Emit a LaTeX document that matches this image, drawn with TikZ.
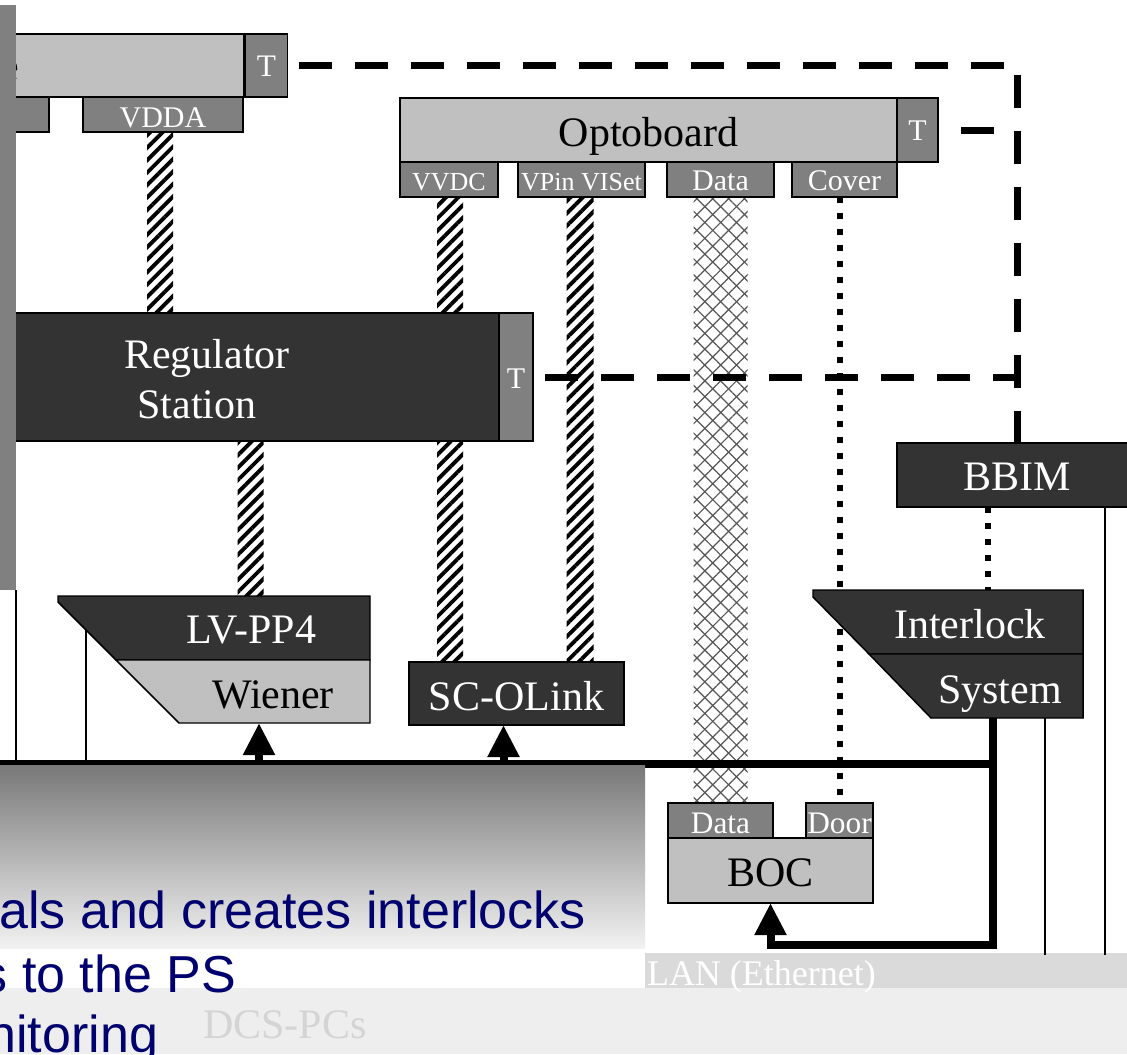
\documentclass[tikz,border=0pt]{standalone}
\usepackage{fontspec}
\setmainfont{Liberation Serif}
\newfontfamily\bluesans{Liberation Sans}
\usetikzlibrary{patterns.meta,arrows.meta,calc}

\definecolor{boxlight}{RGB}{192,192,192}
\definecolor{boxmid}{RGB}{128,128,128}
\definecolor{boxdark}{RGB}{51,51,51}
\definecolor{hatchgray}{RGB}{85,85,85}
\definecolor{navytext}{RGB}{0,0,110}
\definecolor{ditherlight}{RGB}{238,238,238}
\definecolor{dithermid}{RGB}{218,218,218}
\definecolor{ghosttext}{RGB}{212,212,212}

% font sizes (1 unit = 0.75pt)
\newcommand\fBig{\fontsize{31.5pt}{32pt}\selectfont}
\newcommand\fMid{\fontsize{23.5pt}{24pt}\selectfont}
\newcommand\fPort{\fontsize{22.5pt}{23pt}\selectfont}
\newcommand\fNarrow{\fontsize{19.5pt}{20pt}\selectfont}
\newcommand\fLan{\fontsize{27pt}{28pt}\selectfont}
\newcommand\fBlue{\bluesans\fontsize{39pt}{40pt}\selectfont}

\pgfdeclarelayer{bglayer}
\pgfdeclarelayer{cables}
\pgfdeclarelayer{front}
\pgfsetlayers{bglayer,cables,main,front}

\begin{document}
\begin{tikzpicture}[x=0.75pt,y=-0.75pt,
  box/.style={draw=black,line width=1.1pt,anchor=north west,inner sep=0pt,outer sep=0pt},
  wh/.style 2 args={minimum width={#1*0.75pt},minimum height={#2*0.75pt}},
  lightbox/.style={box,fill=boxlight},
  midbox/.style={box,fill=boxmid},
  darkbox/.style={box,fill=boxdark},
  shapeline/.style={draw=black,line width=1.1pt,line join=miter},
  txt/.style={anchor=base,inner sep=0pt,outer sep=0pt},
  wtxt/.style={txt,text=white},
  ktxt/.style={txt,text=black},
  hatch/.style={pattern={Lines[angle=45,distance=6.6pt,line width=2.9pt]},pattern color=black},
  xhatchA/.style={pattern={Lines[angle=45,distance=8.4pt,line width=0.9pt]},pattern color=hatchgray},
  xhatchB/.style={pattern={Lines[angle=-45,distance=8.4pt,line width=0.9pt]},pattern color=hatchgray},
  sqdots/.style={line width=4.5pt,dash pattern=on 4.5pt off 7.5pt},
  tdash/.style={line width=5.25pt,dash pattern=on 24.75pt off 17.25pt},
  bus/.style={line width=6pt},
  thin/.style={line width=1.1pt},
  uparrow/.style={line width=6pt,-{Triangle[width=22.5pt,length=24pt]}},
]
\useasboundingbox (0,0) rectangle (1127,1054);

% ---- named points of the two slanted blocks and of the bus
\coordinate (lv-nw) at (58,596);
\coordinate (lv-ne) at (370,596);
\coordinate (lv-in) at (259,723);
\coordinate (il-top) at (988,590);
\coordinate (il-out) at (993,718);
\coordinate (il-mon) at (1045,718);
\coordinate (fb-corner) at (993,945);
\coordinate (busL) at (0,764);
\coordinate (busR) at (997,764);
\coordinate (bar-foot) at (16,590);
\coordinate (lv-foot) at (86,627);

% ---- boxes
\node[lightbox,wh={236}{63}] (topbox) at (8,34) {};
\node[midbox,wh={42}{63}] (topT) at (245.5,34) {};
\node[midbox,wh={41}{35}] (leftsub) at (8,97) {};
\node[midbox,wh={160}{35}] (vdda) at (83,97) {};
\node[lightbox,wh={497}{64}] (opto) at (400,98) {};
\node[midbox,wh={41}{64}] (optoT) at (897,98) {};
\node[midbox,wh={98}{35}] (vvdc) at (400,162) {};
\node[midbox,wh={127}{35}] (vpin) at (518,162) {};
\node[midbox,wh={107}{35}] (odata) at (667,162) {};
\node[midbox,wh={105}{35}] (cover) at (792,162) {};
\node[darkbox,wh={491}{128}] (reg) at (8,313) {};
\node[midbox,wh={34}{128}] (regT) at (499,313) {};
\node[darkbox,wh={215}{63}] (scolink) at (409,662) {};
\node[darkbox,wh={240}{64}] (bbim) at (897,443) {};
\node[midbox,wh={105}{35}] (bocdata) at (668,803) {};
\node[midbox,wh={67}{35}] (door) at (806,803) {};
\node[lightbox,wh={205}{65}] (boc) at (668,838) {};

% ---- slanted blocks
\path[shapeline,fill=boxdark] (lv-nw) -- (lv-ne) -- (370,660) -- (116,660) -- (58,602) -- cycle;
\path[shapeline,fill=boxlight] (116,660) -- (370,660) -- (370,723) -- (179,723) -- cycle;
\path[shapeline,fill=boxdark] (813,590) -- (1083,590) -- (1083,654) -- (869,654) -- (813,597) -- cycle;
\path[shapeline,fill=boxdark] (869,654) -- (1083,654) -- (1083,718) -- (931,718) -- cycle;

% ---- labels
\node[ktxt,anchor=base east,font=\fBig] (cutlabel) at (19,80) {e};
\node[wtxt,font=\fMid] (topTtxt) at (topT.center |- 0,76) {T};
\node[wtxt,font=\fPort] (vddatxt) at (vdda.center |- 0,127) {VDDA};
\node[ktxt,font=\fBig] (optotxt) at (opto.center |- 0,146) {Optoboard};
\node[wtxt,font=\fPort] (optoTtxt) at (optoT.center |- 0,140) {T};
\node[wtxt,font=\fNarrow] (vvdctxt) at (vvdc.center |- 0,190) {VVDC};
\node[wtxt,font=\fNarrow] (vpintxt) at (vpin.center |- 0,190) {VPin VISet};
\node[wtxt,font=\fPort] (odatatxt) at (odata.center |- 0,190) {Data};
\node[wtxt,font=\fPort] (covertxt) at (cover.center |- 0,190) {Cover};
\node[wtxt,font=\fBig] (regtxtA) at (207,368) {Regulator};
\node[wtxt,font=\fBig] (regtxtB) at (197,418) {Station};
\node[wtxt,font=\fPort] (regTtxt) at (regT.center |- 0,388) {T};
\node[wtxt,font=\fBig] (lvtxt) at (251,643) {LV-PP4};
\node[ktxt,font=\fBig] (wienertxt) at (273,708) {Wiener};
\node[wtxt,font=\fBig] (scotxt) at (scolink.center |- 0,710) {SC-OLink};
\node[wtxt,font=\fBig] (bbimtxt) at (1017,490) {BBIM};
\node[wtxt,font=\fBig] (iltxtA) at (970,638) {Interlock};
\node[wtxt,font=\fBig] (iltxtB) at (1000,703) {System};
\node[wtxt,font=\fMid] (bocdatatxt) at (bocdata.center |- 0,833) {Data};
\node[wtxt,font=\fMid] (doortxt) at (door.center |- 0,833) {Door};
\node[ktxt,font=\fBig] (boctxt) at (boc.center |- 0,886) {BOC};

% ---- gradient panel with the description text
\shade[top color={rgb,255:red,120;green,120;blue,120},middle color={rgb,255:red,165;green,165;blue,165},bottom color={rgb,255:red,242;green,242;blue,242}] (0,765) rectangle (645,948);
\node[txt,anchor=base east,text=navytext,font=\fBlue] (descA) at (586,928) {als and creates interlocks};
\node[txt,anchor=base east,text=navytext,font=\fBlue] (descB) at (236,992) {s to the PS};

\begin{pgfonlayer}{bglayer}
  \fill[white] (0,0) rectangle (1127,1054);
  % network strip at the bottom
  \fill[ditherlight] (0,988) rectangle (1127,1054);
  \fill[dithermid] (645,953) rectangle (1127,988);
  \node[txt,anchor=base west,text=white,font=\fLan] (lan) at (647,985) {LAN (Ethernet)};
  \node[txt,text=ghosttext,font=\fBig] (dcspc) at (285,1038) {DCS-PCs};
\end{pgfonlayer}

\begin{pgfonlayer}{cables}
  % power cables (hatched) and the optical data fibre (cross-hatched)
  \fill[hatch] ($(vdda.south)+(-16,0)$) rectangle ($(vdda.south |- reg.north)+(10,0)$);
  \fill[hatch] ($(reg.south)+(-16,0)$) rectangle ($(reg.south |- lv-ne)+(10,0)$);
  \fill[hatch] ($(vvdc.south)+(-12,0)$) rectangle ($(vvdc.south |- scolink.north)+(14,0)$);
  \fill[hatch] ($(vpin.south)+(-15,0)$) rectangle ($(vpin.south |- scolink.north)+(12,0)$);
  \fill[white] ($(odata.south)+(-27,0)$) rectangle ($(odata.south |- bocdata.north)+(27,0)$);
  \fill[xhatchA] ($(odata.south)+(-27,0)$) rectangle ($(odata.south |- bocdata.north)+(27,0)$);
  \fill[xhatchB] ($(odata.south)+(-27,0)$) rectangle ($(odata.south |- bocdata.north)+(27,0)$);
  % interlock signal wires (square dots)
  \draw[sqdots] (cover.south -| door.north) -- (door.north);
  \draw[sqdots] (il-top |- bbim.south) -- (il-top);
  % temperature sensor wires (dashed)
  \draw[tdash,dash phase=33.75pt] (topT.east) -| (bbim.north);
  \draw[tdash,dash phase=24.75pt] (optoT.east) -- (optoT.east -| bbim.north);
  \draw[tdash,dash phase=33pt] (regT.east) -- (regT.east -| bbim.north);
  % thin monitoring wires
  \draw[thin] (bar-foot) -- (bar-foot |- busL);
  \draw[thin] (lv-foot) -- (lv-foot |- busL);
  \draw[thin] (il-mon) -- (il-mon |- 0,955);
  \draw[thin] (bbim.south -| 1105,0) -- (1105,955);
  % control bus with its feeds
  \draw[bus] (busL) -- (busR);
  \draw[uparrow] (lv-in |- busL) -- (lv-in);
  \draw[uparrow] ($(scolink.south |- busL)+(-13,0)$) -- ($(scolink.south)+(-13,0)$);
  \draw[uparrow,line join=miter] (il-out) -- (fb-corner) -| (boc.south);
\end{pgfonlayer}

\begin{pgfonlayer}{front}
  \fill[boxmid] (0,5) rectangle (bar-foot);
  \node[txt,anchor=base east,text=navytext,font=\fBlue] (descC) at (158,1052) {nitoring};
\end{pgfonlayer}
\end{tikzpicture}
\end{document}
